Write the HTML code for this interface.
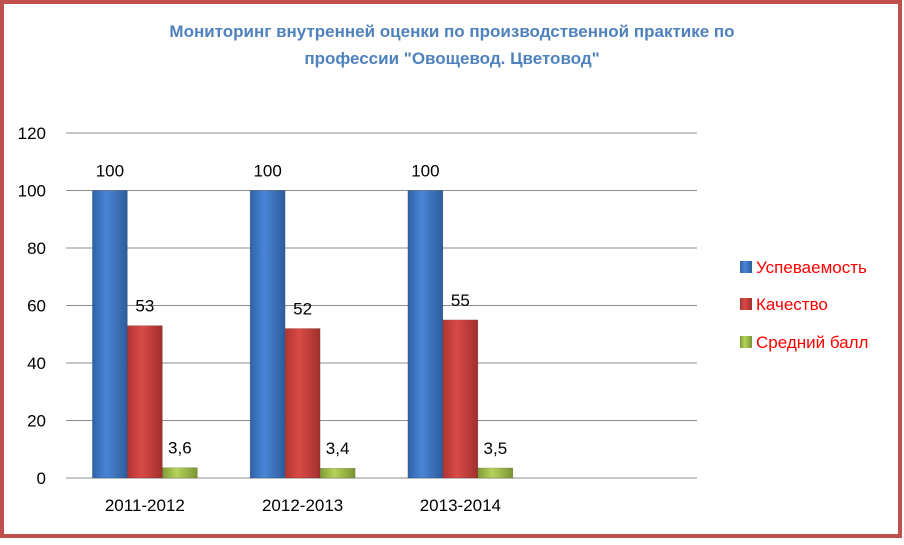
<!DOCTYPE html>
<html><head><meta charset="utf-8"><style>
html,body{margin:0;padding:0;background:#fff}
body{width:904px;height:540px;overflow:hidden;font-family:"Liberation Sans",sans-serif}
</style></head><body>
<svg width="904" height="540" xmlns="http://www.w3.org/2000/svg">
<defs>
<linearGradient id="gb" x1="0" x2="1"><stop offset="0" stop-color="#2f62a8"/><stop offset="0.4" stop-color="#4a85d6"/><stop offset="1" stop-color="#2d5c9c"/></linearGradient>
<linearGradient id="gr" x1="0" x2="1"><stop offset="0" stop-color="#b03532"/><stop offset="0.4" stop-color="#d94a46"/><stop offset="1" stop-color="#a0302d"/></linearGradient>
<linearGradient id="gg" x1="0" x2="1"><stop offset="0" stop-color="#7f9a36"/><stop offset="0.4" stop-color="#b4d35a"/><stop offset="1" stop-color="#7a9433"/></linearGradient>
</defs>
<rect x="2" y="2" width="898" height="534" fill="#fff" stroke="#c0504d" stroke-width="4"/>
<text x="452" y="37" text-anchor="middle" font-size="17" font-weight="bold" fill="#4f81bd">Мониторинг внутренней оценки по производственной практике по</text>
<text x="452" y="64" text-anchor="middle" font-size="17" font-weight="bold" fill="#4f81bd">профессии "Овощевод.  Цветовод"</text>
<g id="grid"></g><g id="bars"></g><g id="labels"></g>
<g>
<rect x="740" y="261" width="12" height="12" fill="url(#gb)"/>
<text x="756" y="273" font-size="17" fill="#ff0000">Успеваемость</text>
<rect x="740" y="298" width="12" height="12" fill="url(#gr)"/>
<text x="756" y="310" font-size="17" fill="#ff0000">Качество</text>
<rect x="740" y="336" width="12" height="12" fill="url(#gg)"/>
<text x="756" y="348" font-size="17" fill="#ff0000">Средний балл</text>
</g>
</svg>
<script>
const categories=["2011-2012","2012-2013","2013-2014",""];
const uspevaemost=[100,100,100];
const kachestvo=[53,52,55];
const sredniy=[3.6,3.4,3.5];
const yTicks=[0,20,40,60,80,100,120];
const NS="http://www.w3.org/2000/svg";
const L=66,R=697,T=133,B=478,YMAX=120;
const y=v=>B-(v/YMAX)*(B-T);
const cw=(R-L)/categories.length;
const cx=i=>L+cw*i+cw/2;
function mk(tag,attrs,parent,txt){const e=document.createElementNS(NS,tag);for(const k in attrs)e.setAttribute(k,attrs[k]);if(txt!==undefined)e.textContent=txt;parent.appendChild(e);return e;}
const grid=document.getElementById('grid'),bars=document.getElementById('bars'),labels=document.getElementById('labels');
yTicks.forEach(t=>{
  const l=mk('line',{x1:L,x2:R,y1:y(t),y2:y(t),stroke:'#8c8c8c','stroke-width':1},grid);
  
  
  const tx=mk('text',{x:L-20,y:y(t)+6,'text-anchor':'end','font-size':17,fill:'#000'},grid,String(t));
  
  
});
categories.forEach((c,i)=>{
  if(!c)return;
  const tx=mk('text',{x:cx(i),y:B+33,'text-anchor':'middle','font-size':17,fill:'#000'},labels,c);
  
  
});
const series=[[uspevaemost,'url(#gb)','uspevaemost'],[kachestvo,'url(#gr)','kachestvo'],[sredniy,'url(#gg)','sredniy-ball']];
const bw=35;
series.forEach(([vals,fill,name],s)=>{
  vals.forEach((v,i)=>{
    const x=cx(i)-1.5*bw+s*bw;
    const r=mk('rect',{x:x,y:y(v),width:bw,height:B-y(v),fill:fill,stroke:'rgba(0,0,0,0.25)','stroke-width':0.5},bars);
    
    
    const lbl=String(v).replace('.',',');
    const t=mk('text',{x:x+bw/2,y:y(v)-14,'text-anchor':'middle','font-size':17,fill:'#000'},labels,lbl);
    
    
  });
});
</script>
</body></html>
